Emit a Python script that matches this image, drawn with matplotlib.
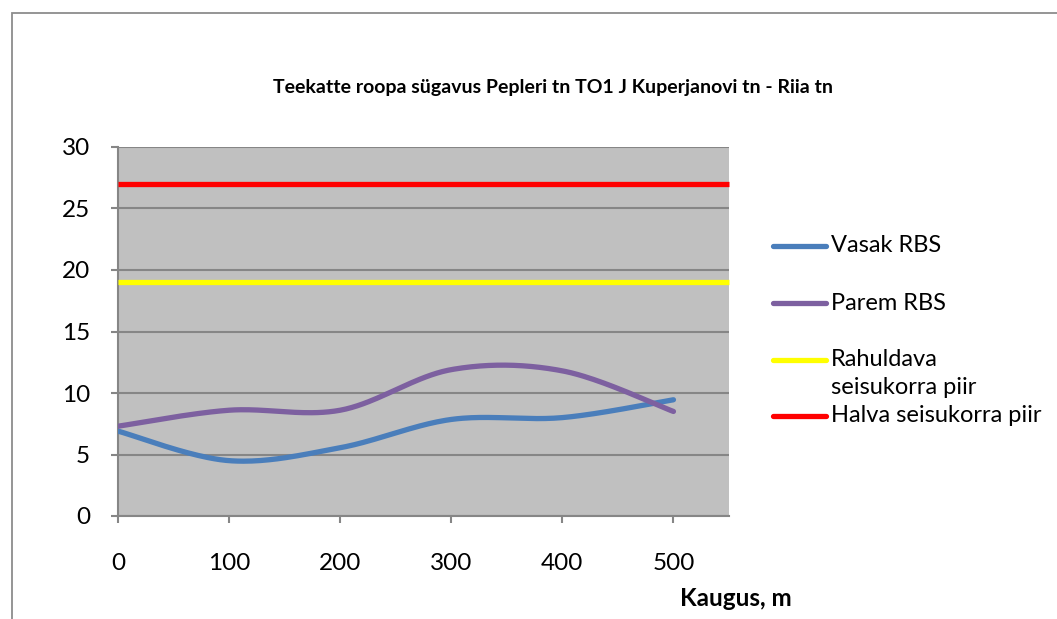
import numpy as np
import matplotlib.pyplot as plt
from matplotlib.lines import Line2D
from matplotlib.patches import Rectangle

plt.rcParams['font.family'] = ['Lato', 'DejaVu Sans']

# measurement points along the street
kaugus = [0, 100, 200, 300, 400, 500]
vasak_rbs = [6.9, 4.5, 5.55, 7.85, 8.0, 9.45]
parem_rbs = [7.3, 8.6, 8.6, 11.9, 11.8, 8.5]
rahuldav_piir = 19
halb_piir = 27

series_names = ["Vasak RBS", "Parem RBS", "Rahuldava\nseisukorra piir", "Halva seisukorra piir"]
series_colors = ["#4a7ebb", "#7d60a0", "#ffff00", "#ff0000"]

title = "Teekatte roopa sügavus Pepleri tn TO1 J Kuperjanovi tn - Riia tn"
x_label = "Kaugus, m"
x_ticks = [0, 100, 200, 300, 400, 500]
y_ticks = [0, 5, 10, 15, 20, 25, 30]


def smooth(xs, ys, n=40):
    # Catmull-Rom curve through the points, like a spreadsheet "smoothed line"
    p = np.column_stack([xs, ys]).astype(float)
    p = np.vstack([p[0], p, p[-1]])
    out = []
    t = np.linspace(0, 1, n)[:, None]
    for i in range(1, len(p) - 2):
        p0, p1, p2, p3 = p[i - 1], p[i], p[i + 1], p[i + 2]
        c1 = p1 + (p2 - p0) / 6
        c2 = p2 - (p3 - p1) / 6
        seg = ((1 - t) ** 3) * p1 + 3 * ((1 - t) ** 2) * t * c1 + 3 * (1 - t) * t ** 2 * c2 + t ** 3 * p2
        out.append(seg if i == 1 else seg[1:])
    out = np.vstack(out)
    return out[:, 0], out[:, 1]


fig = plt.figure(figsize=(10.57, 6.19), dpi=100)
fig.patch.set_facecolor('white')

# chart frame
fig.add_artist(Rectangle((12 / 1057, -0.1), 1.2, (619 - 13) / 619 + 0.1,
                         transform=fig.transFigure, facecolor='none',
                         edgecolor='#8c8c8c', linewidth=1.3))

ax = fig.add_axes([118 / 1057, (619 - 516) / 619, 611 / 1057, 369 / 619])
ax.set_facecolor('#c0c0c0')

ax.set_xlim(0, 550)
ax.set_ylim(0, 30)
ax.set_yticks(y_ticks)
ax.set_xticks(x_ticks)
ax.yaxis.grid(True, color='#868686', linewidth=1.5)
ax.set_axisbelow(True)

for side in ['top', 'right']:
    ax.spines[side].set_visible(False)
for side in ['left', 'bottom']:
    ax.spines[side].set_color('#868686')
    ax.spines[side].set_linewidth(1.5)
ax.tick_params(axis='both', colors='#868686', width=1.5, length=5, labelsize=17.5,
               labelcolor='black')
ax.tick_params(axis='x', pad=22)
ax.tick_params(axis='y', pad=15)

sx, sy = smooth(kaugus, vasak_rbs)
ax.plot(sx, sy, color=series_colors[0], linewidth=3.8, solid_capstyle='round', zorder=3)
sx, sy = smooth(kaugus, parem_rbs)
ax.plot(sx, sy, color=series_colors[1], linewidth=3.8, solid_capstyle='round', zorder=3)
ax.plot([0, 550], [rahuldav_piir] * 2, color=series_colors[2], linewidth=3.8,
        solid_capstyle='butt', clip_on=False, zorder=3)
ax.plot([0, 550], [halb_piir] * 2, color=series_colors[3], linewidth=3.8,
        solid_capstyle='butt', clip_on=False, zorder=3)

fig.text(553 / 1057, 1 - 88 / 619, title, ha='center', va='center',
         fontsize=14, fontweight='bold')
fig.text(736 / 1057, 1 - 599 / 619, x_label, ha='center', va='center',
         fontsize=17.5, fontweight='bold')

# legend, laid out by hand
legend_y = [246, 303, 360, 416]
for name, color, yy in zip(series_names, series_colors, legend_y):
    fy = 1 - yy / 619
    fig.add_artist(Line2D([773 / 1057, 826 / 1057], [fy, fy], transform=fig.transFigure,
                          color=color, linewidth=3.8, solid_capstyle='round'))
    lines = name.split("\n")
    for k, part in enumerate(lines):
        fig.text(831 / 1057, 1 - (yy + 28 * k) / 619, part, ha='left', va='center',
                 fontsize=17)

fig.savefig("out.png", dpi=100, facecolor='white')
